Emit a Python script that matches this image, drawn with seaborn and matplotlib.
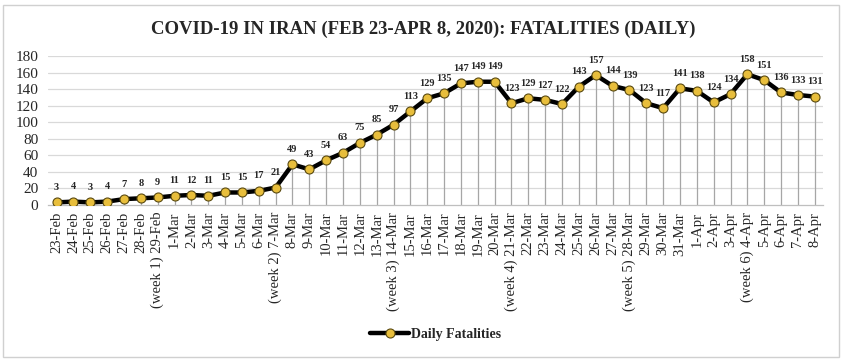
import matplotlib
matplotlib.use("Agg")
import matplotlib.pyplot as plt
import seaborn as sns
import pandas as pd
from matplotlib.patches import Rectangle

dates = ["23-Feb", "24-Feb", "25-Feb", "26-Feb", "27-Feb", "28-Feb", "(week 1) 29-Feb",
         "1-Mar", "2-Mar", "3-Mar", "4-Mar", "5-Mar", "6-Mar", "(week 2) 7-Mar",
         "8-Mar", "9-Mar", "10-Mar", "11-Mar", "12-Mar", "13-Mar", "(week 3) 14-Mar",
         "15-Mar", "16-Mar", "17-Mar", "18-Mar", "19-Mar", "20-Mar", "(week 4) 21-Mar",
         "22-Mar", "23-Mar", "24-Mar", "25-Mar", "26-Mar", "27-Mar", "(week 5) 28-Mar",
         "29-Mar", "30-Mar", "31-Mar", "1-Apr", "2-Apr", "3-Apr", "(week 6) 4-Apr",
         "5-Apr", "6-Apr", "7-Apr", "8-Apr"]
fatalities = [3, 4, 3, 4, 7, 8, 9, 11, 12, 11, 15, 15, 17, 21,
              49, 43, 54, 63, 75, 85, 97,
              113, 129, 135, 147, 149, 149, 123,
              129, 127, 122, 143, 157, 144, 139,
              123, 117, 141, 138, 124, 134, 158,
              151, 136, 133, 131]
yticks = [0, 20, 40, 60, 80, 100, 120, 140, 160, 180]

sns.set_theme(style="white")
plt.rcParams['font.family'] = ['Liberation Serif', 'DejaVu Serif']

df = pd.DataFrame({"x": range(len(dates)), "Daily Fatalities": fatalities})

fig = plt.figure(figsize=(8.46, 3.62), dpi=100)
ax = fig.add_axes([0.057, 0.434, 0.916, 0.411])

for y in yticks[1:]:
    ax.axhline(y, color="#d9d9d9", lw=0.9, zorder=0)
ax.vlines(df["x"], 0, df["Daily Fatalities"], color="#a6a6a6", lw=0.9, zorder=1)

sns.lineplot(data=df, x="x", y="Daily Fatalities", ax=ax, color="black", lw=3.2,
             marker="o", markersize=6.5, markerfacecolor="#E8BE3C",
             markeredgecolor="#5a4a10", markeredgewidth=0.8, label="Daily Fatalities",
             zorder=3)

for i, v in enumerate(fatalities):
    ax.annotate(str(v), (i, v), xytext=(0, 7.5), textcoords="offset points",
                ha="center", va="bottom", fontsize=7.5, fontweight="bold")

ax.set_xlim(-0.5, len(dates) - 0.5)
ax.set_ylim(0, 180)
ax.set_yticks(yticks)
ax.set_yticklabels([str(t) for t in yticks], fontsize=11)
ax.set_xticks(range(len(dates)))
ax.set_xticklabels(dates, rotation=90, fontsize=10.5)
ax.tick_params(axis="x", length=3, color="#a6a6a6", pad=2)
ax.tick_params(axis="y", length=0, pad=7)
ax.set_xlabel("")
ax.set_ylabel("")
for s in ["top", "right", "left"]:
    ax.spines[s].set_visible(False)
ax.spines["bottom"].set_color("#bfbfbf")
ax.spines["bottom"].set_linewidth(0.9)

leg = ax.legend(loc="center", bbox_to_anchor=(0.5, -0.87), frameon=False,
                prop={"weight": "bold", "size": 10}, handlelength=2.8, handletextpad=0.1)

fig.text(0.5, 0.92, "COVID-19 IN IRAN (FEB 23-APR 8, 2020): FATALITIES (DAILY)",
         ha="center", va="center", fontsize=13.5, fontweight="bold")

fig.patches.append(Rectangle((0.004, 0.015), 0.988, 0.972, transform=fig.transFigure,
                             fill=False, edgecolor="#d0d0d0", lw=1.0))

fig.savefig("out.png", dpi=100)
